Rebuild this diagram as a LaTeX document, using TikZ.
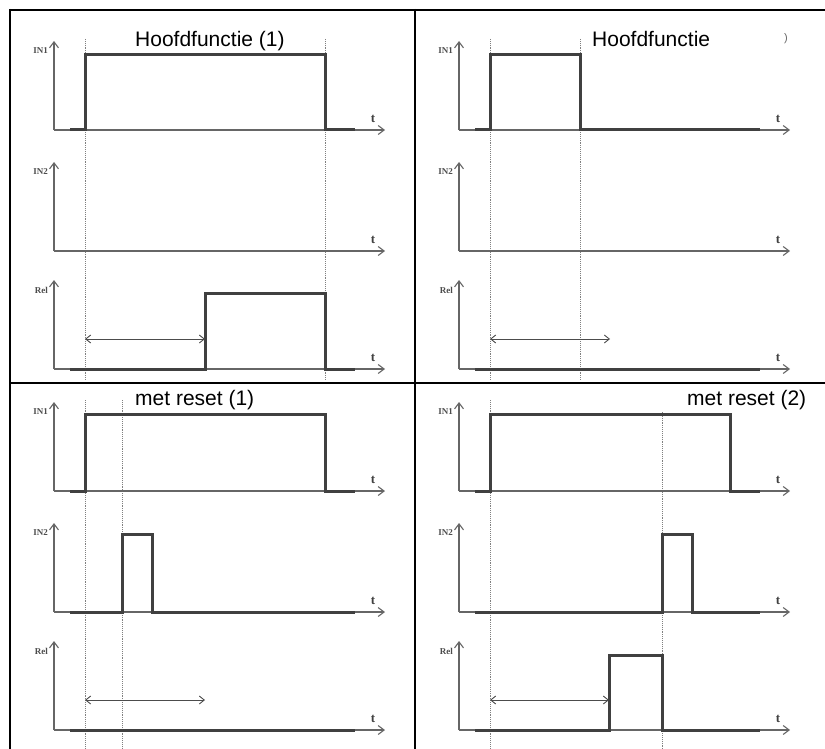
\documentclass[tikz,border=0pt]{standalone}
\usepackage{fontspec}
\newfontfamily\titelfont{Liberation Sans}
\newfontfamily\asfont{Liberation Serif}
\usetikzlibrary{arrows.meta}

\tikzset{
  as/.style={draw=black!60, line width=1.1pt, -{Straight Barb[length=6pt,width=9pt]}},
  signaal/.style={draw=black!75, line width=3pt},
  hulp/.style={draw=black!50, line width=0.9pt, densely dotted},
  kader/.style={draw=black, line width=2pt},
  tijd/.style={draw=black!70, line width=0.9pt, {Straight Barb[length=5pt,width=8pt]}-{Straight Barb[length=5pt,width=8pt]}},
  titel/.style={font=\titelfont\fontsize{21}{21}\selectfont, inner sep=0pt, anchor=base west},
  aslabel/.style={font=\asfont\bfseries\fontsize{9}{9}\selectfont, text=black!70, inner sep=0pt, anchor=east},
  tlabel/.style={font=\asfont\bfseries\fontsize{13}{13}\selectfont, text=black!75, inner sep=0pt},
}

\begin{document}
\begin{tikzpicture}[x=1pt, y=-1pt]
  \useasboundingbox (0,0) rectangle (825,749);

  % Kader
  \draw[kader] (9,10) -- (825,10);
  \draw[kader] (9,383) -- (825,383);
  \draw[kader] (10,9) -- (10,749);
  \draw[kader] (415,9) -- (415,749);

  % Hulplijnen
  \draw[hulp] (85,39) -- (85,380);
  \draw[hulp] (325,39) -- (325,380);
  \draw[hulp] (490,39) -- (490,380);
  \draw[hulp] (580,39) -- (580,380);
  \draw[hulp] (85,400) -- (85,749);
  \draw[hulp] (122,400) -- (122,749);
  \draw[hulp] (490,400) -- (490,749);
  \draw[hulp] (662,412) -- (662,749);

  % Assen
  \foreach \px/\py/\p in {54/0/a, 459/0/b, 54/361/c, 459/361/d} {
    \begin{scope}[shift={(\px,\py)}]
      \foreach \b/\n in {130/IN1, 251/IN2, 369/Rel} {
        \draw[as] (0,\b) -- (0,{\b-89});
        \draw[as] (0,\b) -- (331,\b);
        \node[aslabel] (\p\n) at (-6,{\b-79}) {\n};
        \node[tlabel] (\p t\n) at (319,{\b-11}) {t};
      }
    \end{scope}
  }

  % Titels
  \node[titel] (titelA) at (135,47) {Hoofdfunctie (1)};
  \node[titel] (titelB) at (592,47) {Hoofdfunctie};
  \node[titel, font=\titelfont\fontsize{11}{11}\selectfont, text=black!60] (haakB) at (784,42) {)};
  \node[titel] (titelC) at (135,405) {met reset (1)};
  \node[titel] (titelD) at (687,405) {met reset (2)};

  % Hoofdfunctie (1)
  \draw[signaal] (70,130) -- (85,130) -- (85,55) -- (325,55) -- (325,130) -- (355,130);
  \draw[signaal] (70,369) -- (205,369) -- (205,293) -- (325,293) -- (325,369) -- (355,369);
  \draw[tijd] (85,339) -- (205,339);

  % Hoofdfunctie
  \draw[signaal] (475,130) -- (490,130) -- (490,55) -- (580,55) -- (580,130) -- (760,130);
  \draw[signaal] (475,369) -- (760,369);
  \draw[tijd] (490,339) -- (610,339);

  % met reset (1)
  \draw[signaal] (70,491) -- (85,491) -- (85,414) -- (325,414) -- (325,491) -- (355,491);
  \draw[signaal] (70,612) -- (122,612) -- (122,534) -- (152,534) -- (152,612) -- (355,612);
  \draw[signaal] (70,730) -- (355,730);
  \draw[tijd] (85,700) -- (205,700);

  % met reset (2)
  \draw[signaal] (475,491) -- (490,491) -- (490,414) -- (730,414) -- (730,491) -- (760,491);
  \draw[signaal] (475,612) -- (662,612) -- (662,534) -- (692,534) -- (692,612) -- (760,612);
  \draw[signaal] (475,730) -- (609,730) -- (609,655) -- (662,655) -- (662,730) -- (760,730);
  \draw[tijd] (490,700) -- (609,700);
\end{tikzpicture}
\end{document}
